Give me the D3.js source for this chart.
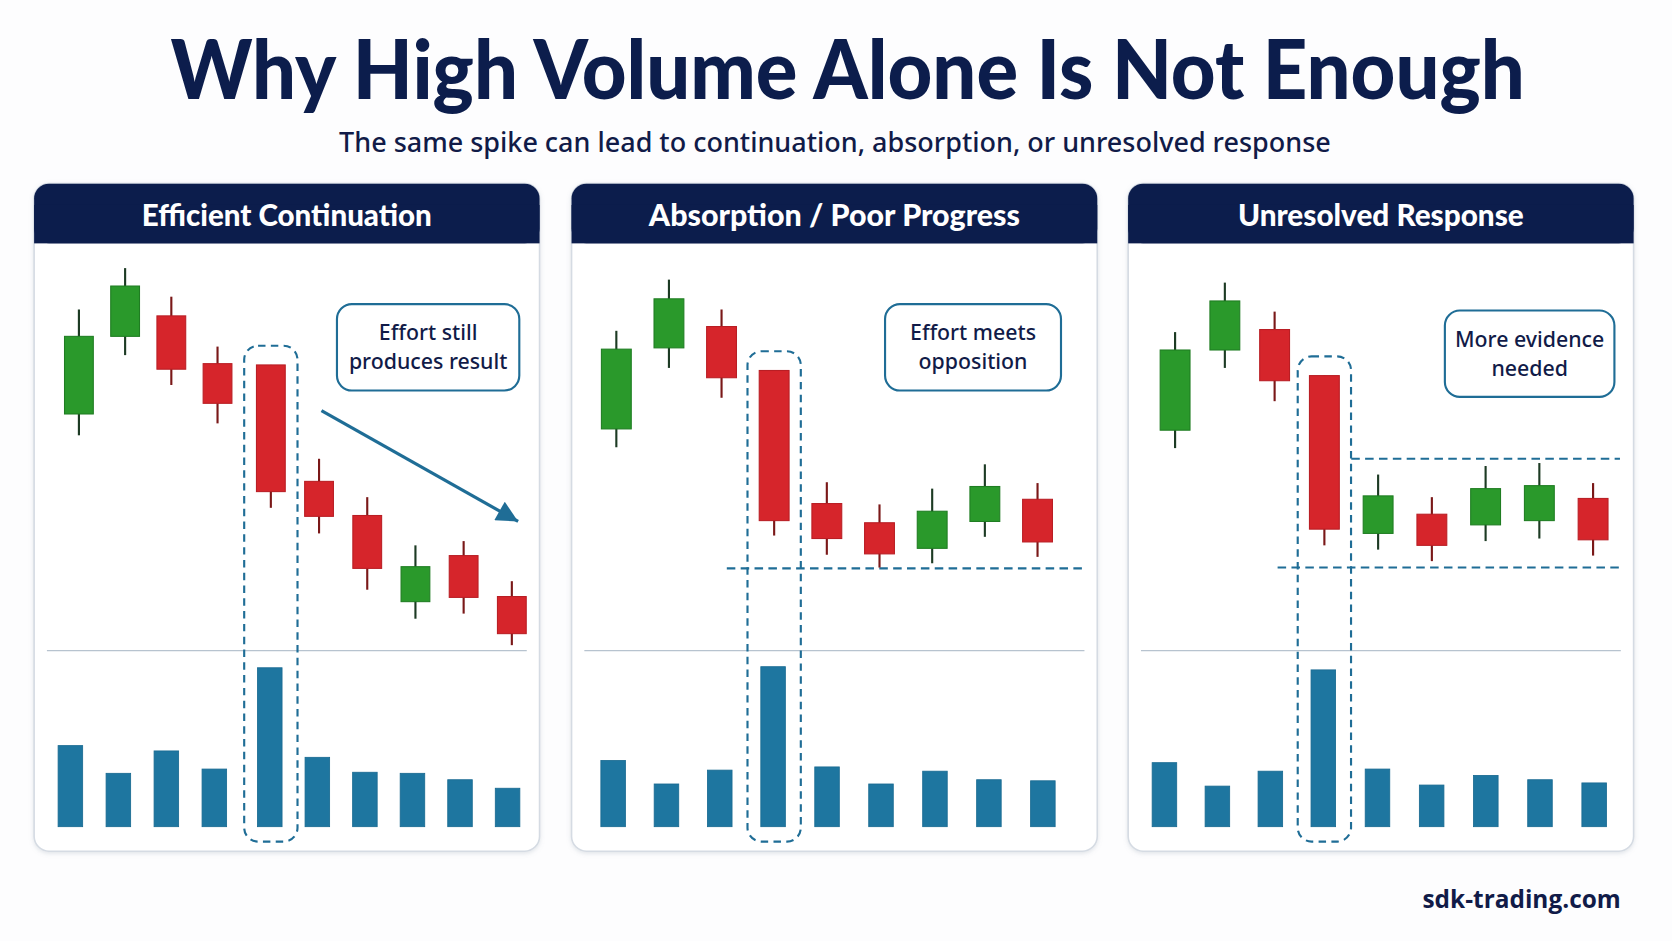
<!DOCTYPE html>
<html>
<head>
<meta charset="utf-8">
<script src="https://cdn.jsdelivr.net/npm/d3@7"></script>
<style>
  html, body { margin: 0; padding: 0; background: #fdfdfe; }
  svg { display: block; }
</style>
</head>
<body>
<script>
/* global d3 */

// Texts
const titleText = 'Why High Volume Alone Is Not Enough';
const subtitleText = 'The same spike can lead to continuation, absorption, or unresolved response';
const footerText = 'sdk-trading.com';
const panelTitles = ['Efficient Continuation', 'Absorption / Poor Progress', 'Unresolved Response'];
const noteLines = [
  ['Effort still', 'produces result'],
  ['Effort meets', 'opposition'],
  ['More evidence', 'needed']
];

// Panel 1: efficient continuation
const contOpen = [58, 76.2, 81, 69.8, 69.5, 42.2, 34.2, 14, 24.8, 15.2];
const contClose = [76.2, 88, 68.5, 60.5, 39.8, 34, 21.8, 22.2, 15, 6.5];
const contHigh = [82.5, 92.2, 85.5, 73.8, 69.5, 47.5, 38.5, 27.2, 28.2, 18.8];
const contLow = [53, 71.8, 64.8, 55.8, 36, 30, 16.8, 10, 11.2, 3.8];
const contVolume = [76, 50, 71, 54, 149, 65, 51, 50, 44, 36];

// Panel 2: absorption / poor progress
const absOpen = [54.5, 73.5, 78.5, 68.2, 37, 32.5, 26.5, 32.8, 38];
const absClose = [73.2, 85, 66.5, 33, 28.8, 25.2, 35.2, 41, 28];
const absHigh = [77.5, 89.5, 82.5, 68.2, 42, 36.8, 40.5, 46.2, 41.8];
const absLow = [50.2, 68.8, 61.8, 29.5, 25, 22, 23, 29.2, 24.5];
const absVolume = [62, 40, 53, 150, 56, 40, 52, 44, 43];
const absSupport = 21.8;

// Panel 3: unresolved response
const unrOpen = [54.2, 73, 77.8, 67, 30, 34.5, 32, 33, 38.2];
const unrClose = [73, 84.5, 65.8, 31, 38.8, 27.2, 40.5, 41.2, 28.5];
const unrHigh = [77.2, 88.8, 82, 67, 43.8, 38.5, 45.8, 46.5, 41.8];
const unrLow = [50, 68.8, 61, 27.2, 26.2, 23.5, 28.2, 28.8, 24.8];
const unrVolume = [60, 38, 52, 147, 54, 39, 48, 44, 41];
const unrRange = [22, 47.5];

const spikeIndex = [4, 3, 3];

// Colors
const navy = '#0c1d4c';
const textNavy = '#111b48';
const upFill = '#2a992b';
const upStroke = '#1f7d22';
const upWick = '#1d3b24';
const downFill = '#d6252b';
const downStroke = '#b91e24';
const downWick = '#7a1818';
const volFill = '#1e76a0';
const lineBlue = '#1f6d96';

// View geometry (drawn in a 1568x882 box, scaled to the window)
const viewW = 1568;
const viewH = 882;
const panelTop = 172;
const panelBottom = 798;
const headerH = 56;

const yPrice = d3.scaleLinear().domain([0, 100]).range([620, 220]);
const yVol = d3.scaleLinear().domain([0, 160]).range([775, 615]);

function candles(o, h, l, c) {
  return o.map((v, i) => ({ open: v, high: h[i], low: l[i], close: c[i] }));
}

const panels = [
  {
    x0: 32, x1: 506, bodyW: 27,
    xc: d3.scaleLinear().domain([0, 3, 4, 9]).range([74, 204, 254, 480]),
    xv: d3.scaleLinear().domain([0, 3, 4, 9]).range([66, 201, 253, 476]),
    candles: candles(contOpen, contHigh, contLow, contClose),
    volume: contVolume,
    note: { x: 316, y: 285, w: 171, h: 81 },
    lines: [],
    arrow: { from: [5.05, 58.8], to: [9.13, 32.8] }
  },
  {
    x0: 536, x1: 1029, bodyW: 28,
    xc: d3.scaleLinear().domain([0, 3, 8]).range([578, 726, 973]),
    xv: d3.scaleLinear().domain([0, 3, 8]).range([575, 725, 978]),
    candles: candles(absOpen, absHigh, absLow, absClose),
    volume: absVolume,
    note: { x: 830, y: 285, w: 165, h: 81 },
    lines: [{ value: absSupport, from: 2.1, to: 8.85 }]
  },
  {
    x0: 1058, x1: 1532, bodyW: 28,
    xc: d3.scaleLinear().domain([0, 3, 8]).range([1102, 1242, 1494]),
    xv: d3.scaleLinear().domain([0, 3, 8]).range([1092, 1241, 1495]),
    candles: candles(unrOpen, unrHigh, unrLow, unrClose),
    volume: unrVolume,
    note: { x: 1355, y: 291, w: 159, h: 81 },
    lines: [
      { value: unrRange[1], from: 3.5, to: 8.5 },
      { value: unrRange[0], from: 2.06, to: 8.5 }
    ]
  }
];

const svg = d3.select('body')
  .append('svg')
  .attr('width', 1672)
  .attr('height', 941)
  .attr('viewBox', `0 0 ${viewW} ${viewH}`);

svg.append('rect')
  .attr('width', viewW)
  .attr('height', viewH)
  .attr('fill', '#fdfdfe');

const defs = svg.append('defs');

const shadow = defs.append('filter')
  .attr('id', 'shadow')
  .attr('x', '-5%').attr('y', '-5%')
  .attr('width', '110%').attr('height', '110%');
shadow.append('feDropShadow')
  .attr('dx', 0).attr('dy', 1.5)
  .attr('stdDeviation', 2)
  .attr('flood-color', '#8a96a8')
  .attr('flood-opacity', 0.25);

defs.append('marker')
  .attr('id', 'arrowhead')
  .attr('viewBox', '0 0 10 10')
  .attr('refX', 10)
  .attr('refY', 5)
  .attr('markerUnits', 'userSpaceOnUse')
  .attr('markerWidth', 22)
  .attr('markerHeight', 20)
  .attr('orient', 'auto')
  .append('path')
  .attr('d', 'M0,0 L10,5 L0,10 Z')
  .attr('fill', lineBlue);

// Title
svg.append('text')
  .attr('x', 795)
  .attr('y', 93)
  .attr('text-anchor', 'middle')
  .attr('font-family', 'Lato, "Open Sans", sans-serif')
  .attr('font-weight', 900)
  .attr('font-size', 76)
  .attr('textLength', 1270)
  .attr('lengthAdjust', 'spacingAndGlyphs')
  .attr('fill', navy)
  .text(titleText);

// Subtitle
svg.append('text')
  .attr('x', 783)
  .attr('y', 142)
  .attr('text-anchor', 'middle')
  .attr('font-family', '"Noto Sans", "Open Sans", sans-serif')
  .attr('font-weight', 500)
  .attr('font-size', 26)
  .attr('textLength', 930)
  .attr('lengthAdjust', 'spacingAndGlyphs')
  .attr('fill', textNavy)
  .text(subtitleText);

const headerWidths = [272, 348, 268];

panels.forEach((p, k) => {
  const g = svg.append('g');
  const w = p.x1 - p.x0;
  const cx = (p.x0 + p.x1) / 2;

  // Frame
  g.append('rect')
    .attr('x', p.x0)
    .attr('y', panelTop)
    .attr('width', w)
    .attr('height', panelBottom - panelTop)
    .attr('rx', 14)
    .attr('fill', '#ffffff')
    .attr('stroke', '#d5dbe3')
    .attr('stroke-width', 1.5)
    .attr('filter', 'url(#shadow)');

  g.append('rect')
    .attr('x', p.x0)
    .attr('y', panelTop)
    .attr('width', w)
    .attr('height', headerH)
    .attr('rx', 14)
    .attr('fill', navy);
  g.append('rect')
    .attr('x', p.x0)
    .attr('y', panelTop + 20)
    .attr('width', w)
    .attr('height', headerH - 20)
    .attr('fill', navy);

  g.append('text')
    .attr('x', cx)
    .attr('y', 212)
    .attr('text-anchor', 'middle')
    .attr('font-family', 'Lato, "Open Sans", sans-serif')
    .attr('font-weight', 900)
    .attr('font-size', 29)
    .attr('textLength', headerWidths[k])
    .attr('lengthAdjust', 'spacingAndGlyphs')
    .attr('fill', '#ffffff')
    .text(panelTitles[k]);

  // Price / volume separator
  g.append('line')
    .attr('x1', p.x0 + 12)
    .attr('x2', p.x1 - 12)
    .attr('y1', 610)
    .attr('y2', 610)
    .attr('stroke', '#b7c3cf')
    .attr('stroke-width', 1.2);

  // Dashed box around the spike bar
  const s = spikeIndex[k];
  g.append('rect')
    .attr('x', p.xc(s) - 25)
    .attr('y', yPrice(p.candles[s].high) - 18)
    .attr('width', 50)
    .attr('height', 789 - (yPrice(p.candles[s].high) - 18))
    .attr('rx', 13)
    .attr('fill', 'none')
    .attr('stroke', lineBlue)
    .attr('stroke-width', 2)
    .attr('stroke-dasharray', '7,5');

  // Reference levels
  g.selectAll('.level')
    .data(p.lines)
    .join('line')
    .attr('class', 'level')
    .attr('x1', (d) => p.xc(d.from))
    .attr('x2', (d) => p.xc(d.to))
    .attr('y1', (d) => yPrice(d.value))
    .attr('y2', (d) => yPrice(d.value))
    .attr('stroke', lineBlue)
    .attr('stroke-width', 2)
    .attr('stroke-dasharray', '8,5');

  // Volume bars
  g.selectAll('.vol')
    .data(p.volume)
    .join('rect')
    .attr('class', 'vol')
    .attr('x', (d, i) => p.xv(i) - 11.5)
    .attr('y', (d) => yVol(d))
    .attr('width', 23)
    .attr('height', (d) => yVol(0) - yVol(d))
    .attr('fill', volFill)
    .attr('stroke', '#1a6b92')
    .attr('stroke-width', 0.8);

  // Candles
  g.selectAll('.wick')
    .data(p.candles)
    .join('line')
    .attr('class', 'wick')
    .attr('x1', (d, i) => p.xc(i))
    .attr('x2', (d, i) => p.xc(i))
    .attr('y1', (d) => yPrice(d.high))
    .attr('y2', (d) => yPrice(d.low))
    .attr('stroke', (d) => (d.close > d.open ? upWick : downWick))
    .attr('stroke-width', 2);

  g.selectAll('.body')
    .data(p.candles)
    .join('rect')
    .attr('class', 'body')
    .attr('x', (d, i) => p.xc(i) - p.bodyW / 2)
    .attr('y', (d) => yPrice(Math.max(d.open, d.close)))
    .attr('width', p.bodyW)
    .attr('height', (d) => Math.abs(yPrice(d.open) - yPrice(d.close)))
    .attr('fill', (d) => (d.close > d.open ? upFill : downFill))
    .attr('stroke', (d) => (d.close > d.open ? upStroke : downStroke))
    .attr('stroke-width', 1);

  // Arrow
  if (p.arrow) {
    g.append('line')
      .attr('x1', p.xc(p.arrow.from[0]))
      .attr('y1', yPrice(p.arrow.from[1]))
      .attr('x2', p.xc(p.arrow.to[0]))
      .attr('y2', yPrice(p.arrow.to[1]))
      .attr('stroke', lineBlue)
      .attr('stroke-width', 3)
      .attr('marker-end', 'url(#arrowhead)');
  }

  // Note box
  const n = p.note;
  g.append('rect')
    .attr('x', n.x)
    .attr('y', n.y)
    .attr('width', n.w)
    .attr('height', n.h)
    .attr('rx', 14)
    .attr('fill', '#ffffff')
    .attr('stroke', lineBlue)
    .attr('stroke-width', 2);

  g.selectAll('.note')
    .data(noteLines[k])
    .join('text')
    .attr('class', 'note')
    .attr('x', n.x + n.w / 2)
    .attr('y', (d, i) => n.y + n.h / 2 - 6.5 + i * 27)
    .attr('text-anchor', 'middle')
    .attr('font-family', '"Noto Sans", "Open Sans", sans-serif')
    .attr('font-weight', 500)
    .attr('font-size', 20)
    .attr('fill', textNavy)
    .text((d) => d);
});

// Footer
svg.append('text')
  .attr('x', 1520)
  .attr('y', 851)
  .attr('text-anchor', 'end')
  .attr('font-family', '"Open Sans", "Noto Sans", sans-serif')
  .attr('font-weight', 700)
  .attr('font-size', 24)
  .attr('textLength', 186)
  .attr('lengthAdjust', 'spacingAndGlyphs')
  .attr('fill', textNavy)
  .text(footerText);
</script>
</body>
</html>
